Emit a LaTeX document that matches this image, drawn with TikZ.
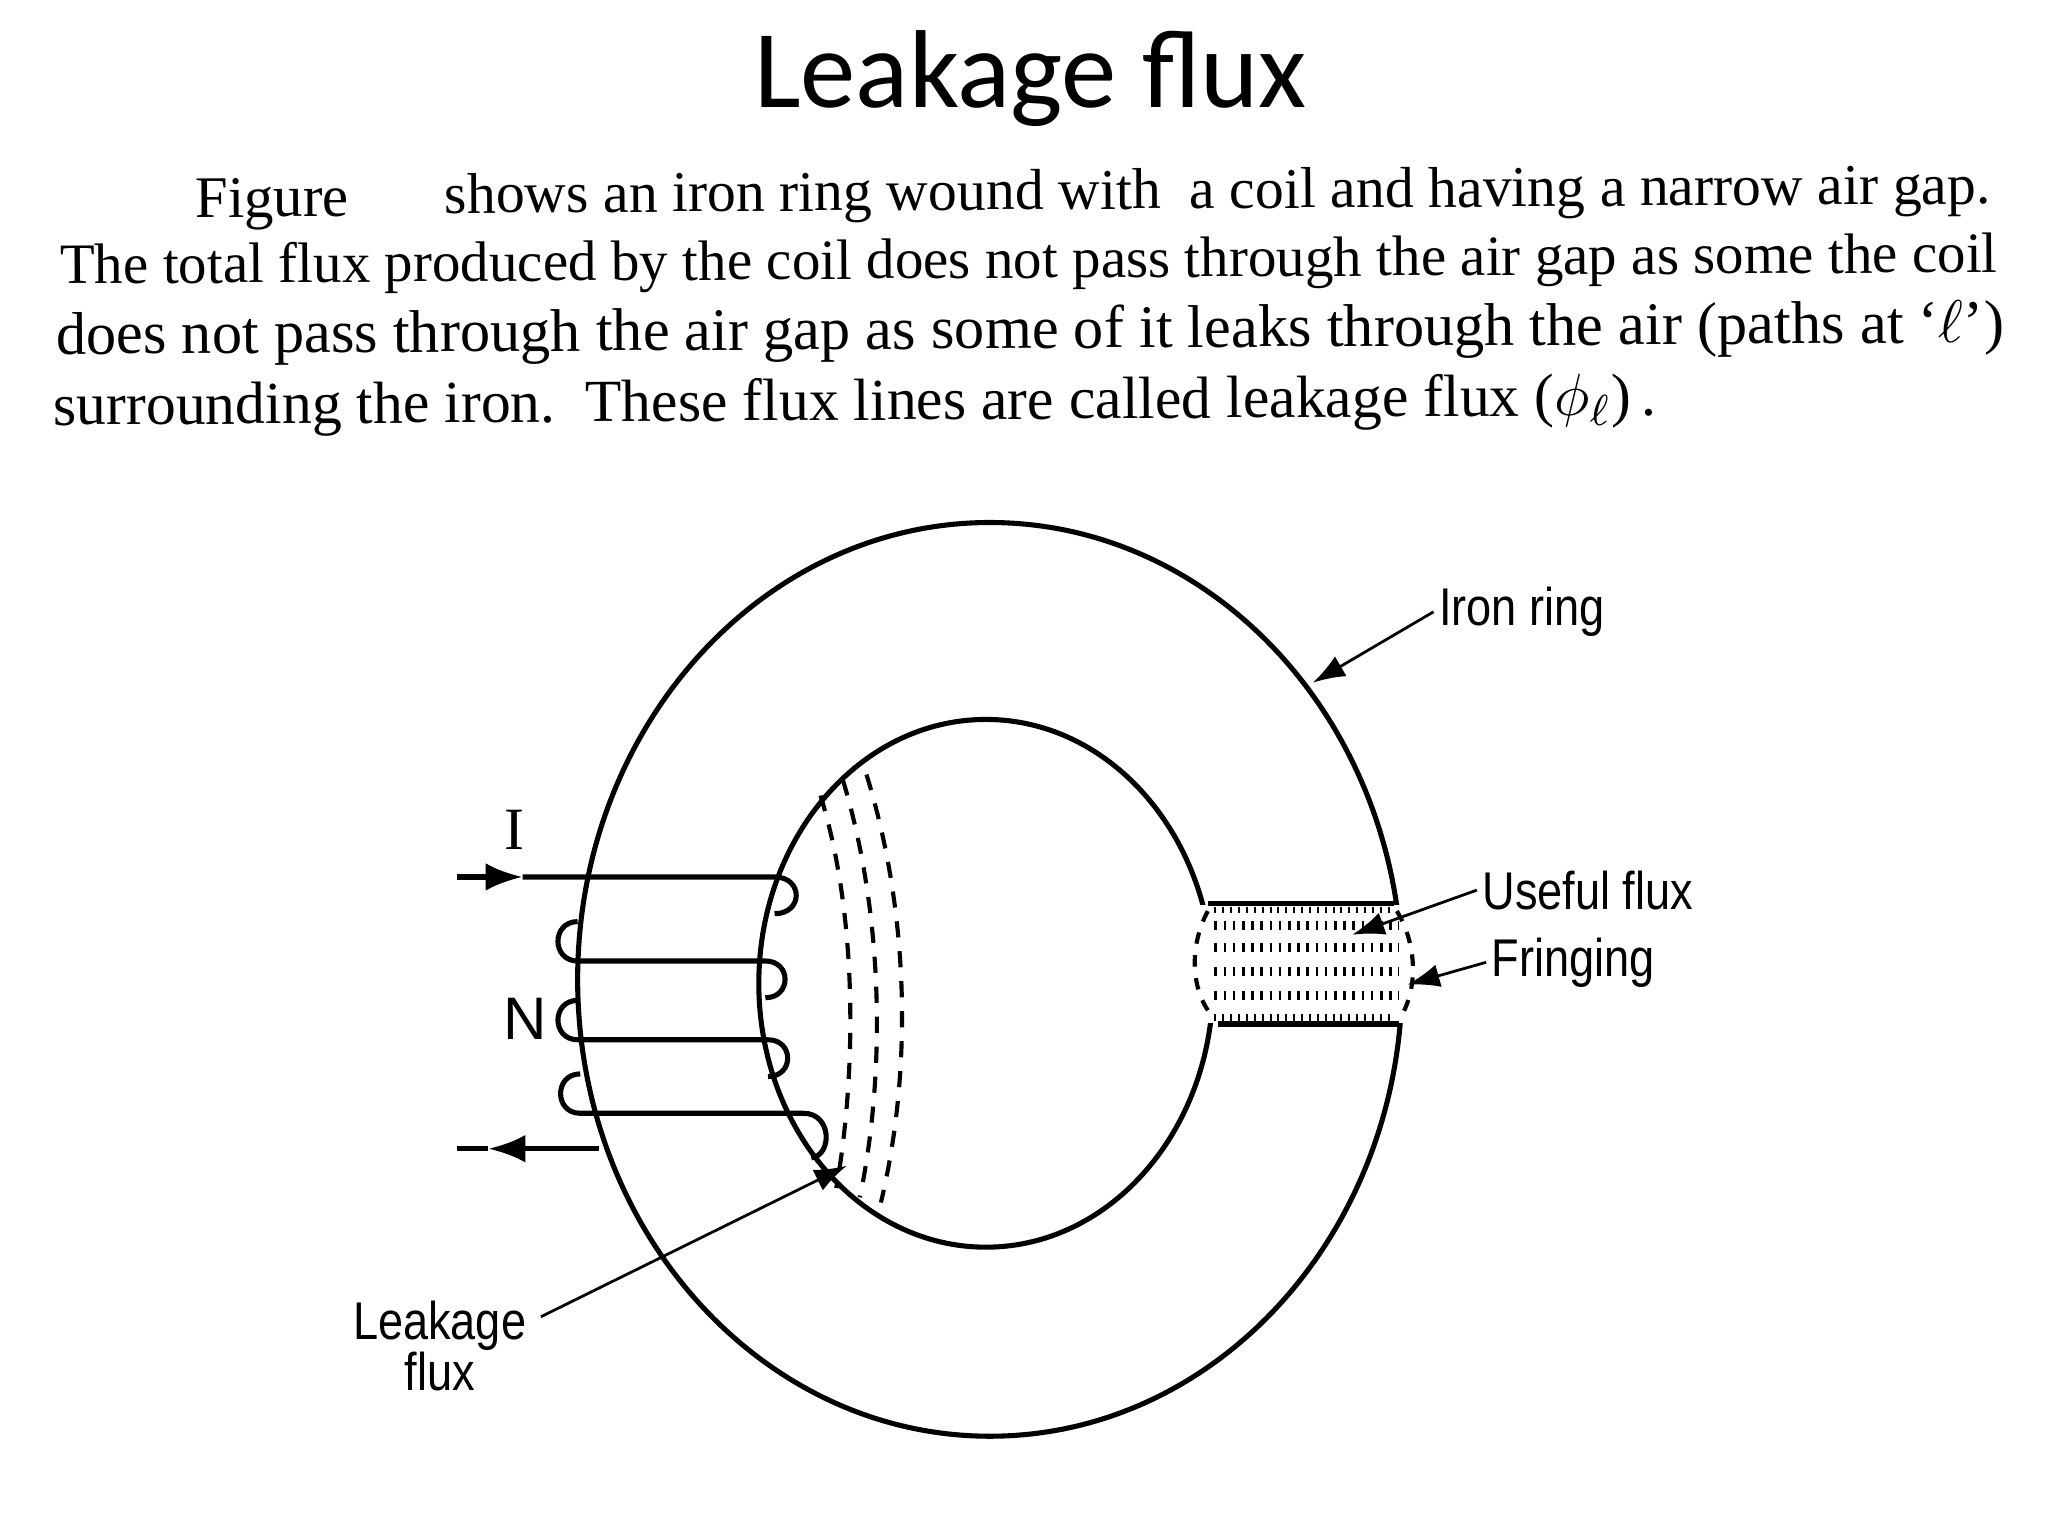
\documentclass[tikz,border=0pt]{standalone}
\usepackage{fontspec}
\setmainfont{Liberation Serif}
\newfontfamily\titlefont{Carlito}
\newfontfamily\labfont{Liberation Sans}
\usetikzlibrary{arrows.meta}
\tikzset{
  wire/.style={line width=1.1pt},
  lab/.style={font=\labfont\fontsize{11.5}{13}\selectfont, inner sep=1pt},
  ptr/.style={line width=0.6pt,-{Latex[length=7pt,width=5pt]}},
  para/.style={anchor=west, inner sep=0pt, rotate=0.35},
  gapdots/.style={line width=0.07cm, dash pattern=on 0.02cm off 0.05cm},
  leak/.style={line width=0.9pt, dash pattern=on 3.5pt off 3pt}
}
\newcommand{\pline}[2]{\resizebox{#1}{!}{\fontsize{11}{13}\selectfont\strut #2}}
\begin{document}
\begin{tikzpicture}[x=0.01cm,y=-0.01cm]
\useasboundingbox (0,0) rectangle (1560,1170);
% title
\node (title) at (785,60) {\titlefont\fontsize{24}{28}\selectfont Leakage flux};
% paragraph
\node[para] (p1a) at (148,155) {\pline{1.17cm}{Figure}};
\node[para] (p1b) at (338,152) {\pline{11.77cm}{shows an iron ring wound with\ \ a coil and having a narrow air gap.}};
\node[para] (p2) at (45,206) {\pline{14.75cm}{The total flux produced by the coil does not pass through the air gap as some the coil}};
\node[para] (p3) at (42,259) {\pline{14.83cm}{does not pass through the air gap as some of it leaks through the air (paths at `$\ell$')}};
\node[para] (p4) at (40,313) {\pline{12.2cm}{surrounding the iron.\ \ These flux lines are called leakage flux\ ($\phi_\ell$)\,.}};
% ring
\draw[wire] (754,746) ellipse [x radius=314, y radius=348];
\draw[wire] (751,749) ellipse [x radius=173, y radius=201];
\fill[white] (905,689) rectangle (1080,779);
\coordinate (g1) at (920,688); \coordinate (g2) at (1062,688);
\coordinate (g3) at (928,780); \coordinate (g4) at (1066,780);
\draw[wire] (g1) -- (g2);
\draw[wire] (g3) -- (g4);
% gap flux
\foreach \yy in {693,775} \draw[line width=0.05cm, dash pattern=on 0.015cm off 0.045cm] (925,\yy) -- (1062,\yy);
\foreach \yy in {705,722,740,758} \draw[gapdots] (925,\yy) -- (1066,\yy);
\draw[leak, dash pattern=on 2.5pt off 2.5pt] (920,694) .. controls (906,720) and (906,755) .. (925,776);
\draw[leak, dash pattern=on 2.5pt off 2.5pt] (1064,694) .. controls (1080,720) and (1080,755) .. (1066,776);
% leakage flux lines
\draw[leak] (625,606) .. controls (654,700) and (652,820) .. (637,905);
\draw[leak] (642,594) .. controls (674,700) and (674,820) .. (655,912);
\draw[leak] (660,590) .. controls (694,700) and (694,820) .. (671,916);
% coil
\coordinate (in0) at (348,668); \coordinate (in1) at (398,668);
\draw[wire,-{Latex[length=8pt,width=6pt]}] (in0) -- (in1);
\draw[wire] (in1) -- (590,668) .. controls (612,668) and (612,696) .. (590,696);
\draw[wire] (440,702) .. controls (420,702) and (420,732) .. (440,732) -- (583,732) .. controls (603,732) and (603,760) .. (583,760);
\draw[wire] (440,762) .. controls (420,762) and (420,792) .. (440,792) -- (585,792) .. controls (605,792) and (605,820) .. (585,820);
\draw[wire] (442,818) .. controls (422,818) and (422,848) .. (442,848) -- (612,848) .. controls (634,848) and (634,880) .. (618,882);
\coordinate (out0) at (456,875); \coordinate (out1) at (372,875); \coordinate (out2) at (348,875);
\draw[wire,-{Latex[length=8pt,width=6pt]}] (out0) -- (out1);
\draw[wire] (out1) -- (out2);
% labels
\node (I) at (392,632) {\fontsize{13}{15}\selectfont I};
\node[lab] (N) at (400,776) {\fontsize{13}{15}\selectfont N};
\node[lab,anchor=west] (iron) at (1092,466) {\scalebox{0.85}[1]{Iron ring}};
\draw[ptr] (iron.west) -- (1000,520);
\node[lab,anchor=west] (useful) at (1125,678) {\scalebox{0.85}[1]{Useful flux}};
\draw[ptr] (useful.west) -- (1030,712);
\node[lab,anchor=west] (fring) at (1132,733) {\scalebox{0.85}[1]{Fringing}};
\draw[ptr] (fring.west) -- (1072,750);
\node[lab,align=center,anchor=east] (leaklab) at (405,1025) {\scalebox{0.85}[1]{Leakage}\\[-2pt]\scalebox{0.85}[1]{flux}};
\coordinate (lk) at (412,1003);
\draw[ptr] (lk) -- (645,888);
\end{tikzpicture}
\end{document}
